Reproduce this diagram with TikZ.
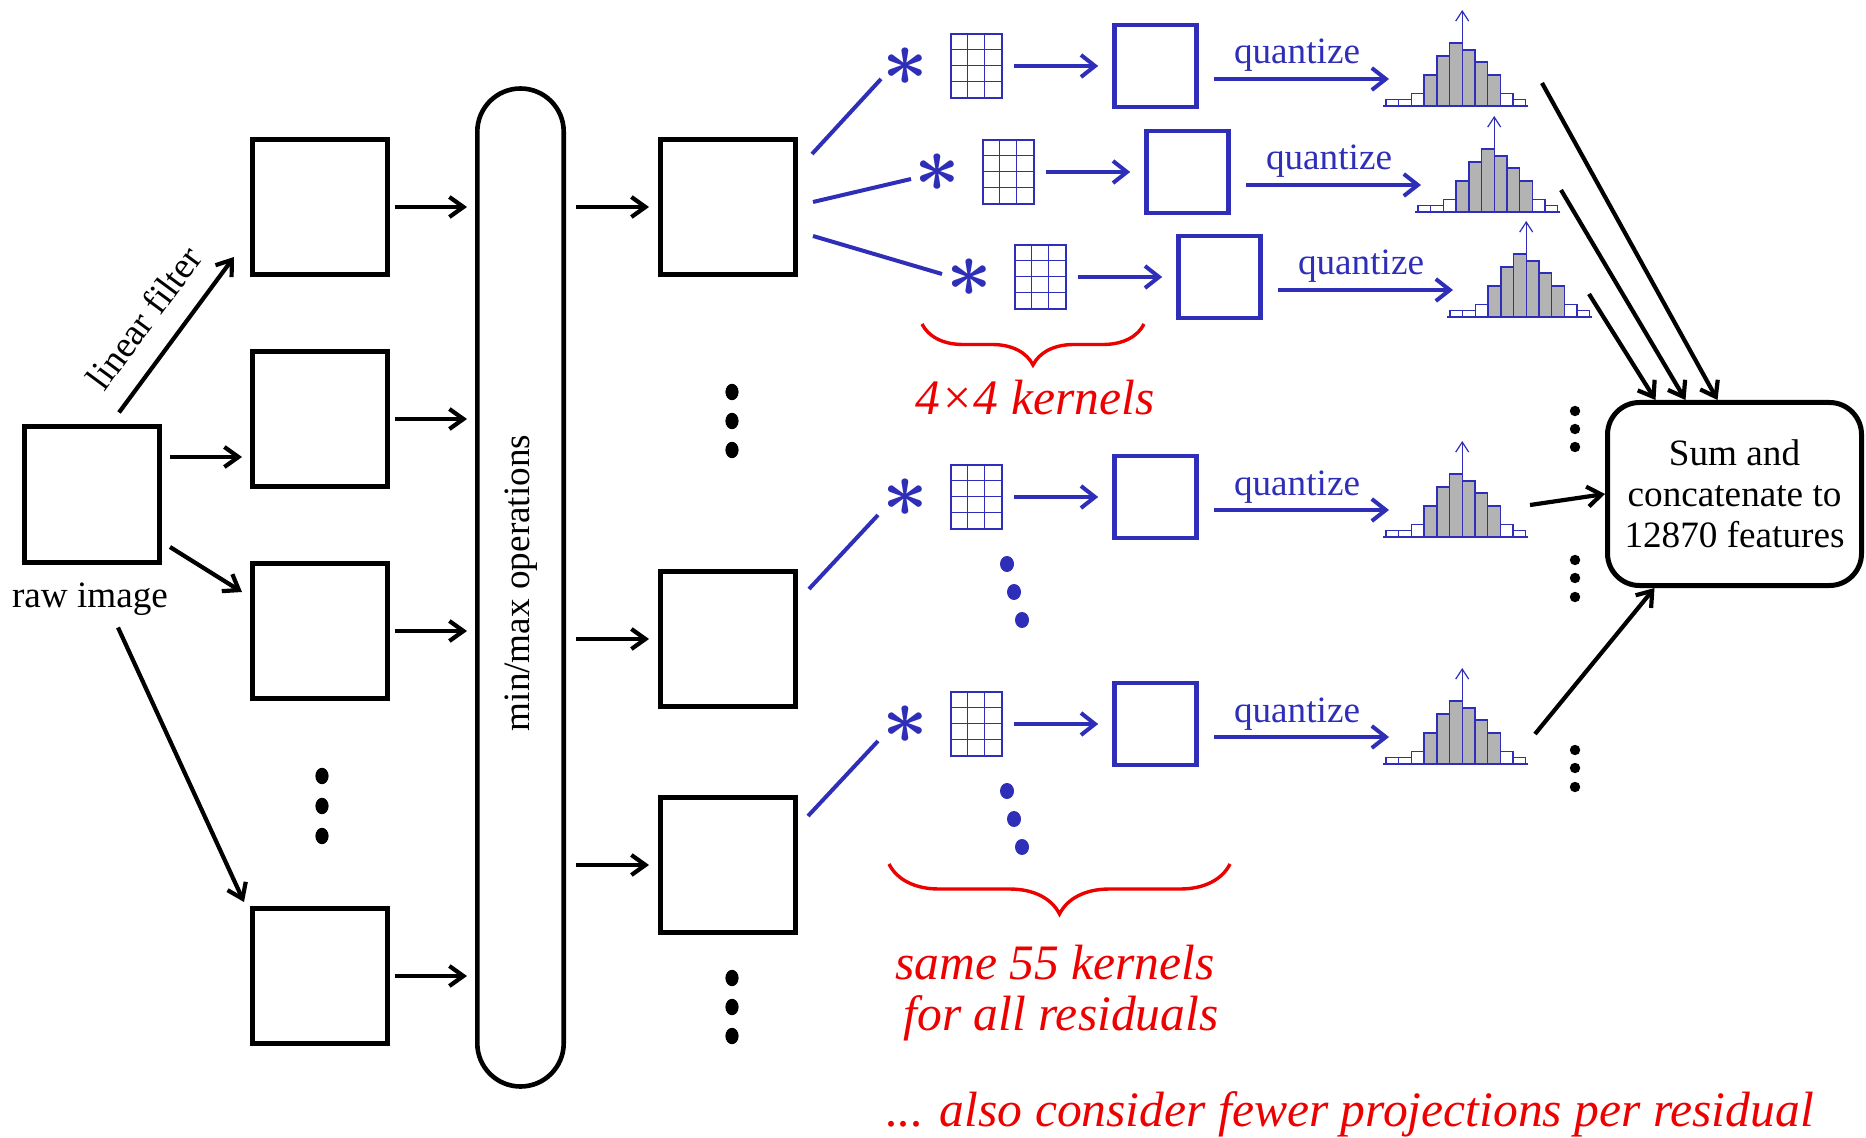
\documentclass[tikz,border=0pt]{standalone}
\usepackage{fontspec}
\setmainfont{Liberation Serif}
\usetikzlibrary{arrows.meta,calc,decorations.pathreplacing}

\definecolor{kblue}{RGB}{46,46,184}
\definecolor{kred}{RGB}{236,0,0}
\definecolor{hgrey}{RGB}{179,179,179}

\tikzset{
  box/.style={draw, line width=2.5pt, minimum width=67.5pt, minimum height=67.5pt, inner sep=0pt},
  arr/.style={line width=2.1pt, -{Straight Barb[length=7pt,width=10pt]}},
  bbox/.style={draw=kblue, line width=2.3pt, minimum width=41pt, minimum height=41pt, inner sep=0pt},
  barr/.style={kblue, line width=2pt, -{Straight Barb[length=7pt,width=11pt]}},
  bline/.style={kblue, line width=2pt},
  kgrid/.style={draw=kblue, line width=0.6pt, minimum width=25.5pt, minimum height=32pt, inner sep=0pt},
  kgridline/.style={kblue, line width=0.6pt},
  ast/.style={text=kblue, inner sep=0pt, font=\Huge\boldmath},
  lbl/.style={font=\fontsize{18.6}{20.5}\selectfont, inner sep=0pt},
  qlbl/.style={lbl, text=kblue},
  redlbl/.style={text=kred, font=\fontsize{24.8}{25.5}\selectfont\itshape, inner sep=0pt},
  bar/.style={draw=kblue, line width=0.7pt},
  hbase/.style={kblue, line width=1pt},
  harr/.style={kblue, line width=0.6pt, -{Straight Barb[length=5pt,width=6.5pt]}},
  rbrace/.style={kred, line width=1.7pt, decorate, decoration={brace, mirror, amplitude=#1}},
  sumbox/.style={draw, line width=2.5pt, rounded corners=16pt, minimum width=127pt,
    minimum height=91.5pt, align=center, lbl},
}

% one projection row: convolution sign, kernel, residual, quantizer, histogram
% #1 = row index, #2 = horizontal shift, #3 = vertical centre
\newcommand\kernelrow[3]{%
  \begin{scope}[shift={(#2,#3)}]
    \node[ast] (s#1) at (905,1) {\scalebox{1.6}{$\ast$}};
    \node[kgrid] (k#1) at (976.5,0) {};
    \foreach \i in {1,2}
      \draw[kgridline] ($(k#1.north west)+(17*\i,0)$) -- ($(k#1.south west)+(17*\i,0)$);
    \foreach \j in {1,2,3}
      \draw[kgridline] ($(k#1.north west)+(0,16*\j)$) -- ($(k#1.north east)+(0,16*\j)$);
    \node[bbox] (b#1) at (1155.5,0) {};
    \draw[barr, shorten <=5.5pt, shorten >=7pt] (k#1) -- (b#1);
    \coordinate (h#1) at (1383,40);
    \node[qlbl, anchor=base] (q#1) at (1297,-2) {quantize};
    \draw[barr] ($(b#1.east)+(15,13)$) -- ($(h#1)+(6,-27)$);
    \begin{scope}[shift={(h#1)}]
      \foreach \n/\h in {0/6.7,1/6.7,2/12.7,9/12.7,10/6.7}
        \draw[bar, fill=white] (3+12.7*\n,0) rectangle (3+12.7*\n+12.7,-\h);
      \foreach \n/\h in {3/31,4/50,5/63,6/56,7/44,8/31}
        \draw[bar, fill=hgrey] (3+12.7*\n,0) rectangle (3+12.7*\n+12.7,-\h);
      \draw[hbase] (0,0) -- (145,0);
      \draw[harr] (79.2,0) -- (79.2,-96);
    \end{scope}
  \end{scope}%
}

\begin{document}
\begin{tikzpicture}[x=0.5pt,y=-0.5pt]
\useasboundingbox (0,0) rectangle (1866,1138);

% input image and the linear filters
\node[box] (raw) at (92,494.5) {};
\node[lbl, anchor=base] (rawlbl) at (90,607) {raw image};

\node[box] (c1a) at (320,207) {};
\node[box] (c1b) at (320,419) {};
\node[box] (c1c) at (320,631) {};
\node[box] (c1d) at (320,976) {};
\foreach \y in {776,806,836}
  \fill (322,\y) ellipse [x radius=3.3pt, y radius=4.1pt];

\draw[arr] ($(raw.north)+(27,-12)$) -- node[lbl, sloped, above=10.5pt, pos=0.47] (lf) {linear filter} ($(c1a.south west)+(-16,-20)$);
\draw[arr] ($(raw.east)+(8,-37.5)$) -- ($(c1b.west)+(-8,38)$);
\draw[arr] ($(raw.east)+(8,52.5)$) -- ($(c1c.west)+(-8,-39)$);
\draw[arr] ($(raw.south)+(26,63)$) -- ($(c1d.north west)+(-6,-4)$);

% min/max stage
\node[draw, line width=2.3pt, minimum width=43.2pt, minimum height=499pt,
      rounded corners=21.6pt, inner sep=0pt] (pill) at (520.5,587.5) {};
\node[lbl, rotate=90] (mmlbl) at (521,583) {min/max operations};

\foreach \b in {c1a,c1b,c1c,c1d}
  \draw[arr, shorten <=2.5pt, shorten >=4pt] (\b.east) -- (\b.east -| pill.west);

% residuals
\node[box] (c2a) at (728,207) {};
\node[box] (c2b) at (728,639) {};
\node[box] (c2c) at (728,865) {};
\foreach \b in {c2a,c2b,c2c}
  \draw[arr, shorten <=5pt, shorten >=4.5pt] (pill.east |- \b.west) -- (\b.west);
\foreach \y in {392,421,450,978,1007,1036}
  \fill (732,\y) ellipse [x radius=3.3pt, y radius=4.1pt];

% projections
\kernelrow{1}{0}{66}
\kernelrow{2}{32}{172}
\kernelrow{3}{64}{277}
\kernelrow{4}{0}{497}
\kernelrow{5}{0}{724}

\draw[bline] ($(c2a.east)+(14,-53)$) -- ($(s1)+(-24,12)$);
\draw[bline] ($(c2a.east)+(15,-5)$) -- ($(s2)+(-26,6)$);
\draw[bline] ($(c2a.east)+(15,29)$) -- ($(s3)+(-27,-4)$);
\draw[bline] ($(c2b.east)+(11,-50)$) -- ($(s4)+(-27,17)$);
\draw[bline] ($(c2c.east)+(10,-49)$) -- ($(s5)+(-27,16)$);

\foreach \x/\y in {1007/564,1014/592,1022/620,1007/791,1014/819,1022/847}
  \fill[kblue] (\x,\y) ellipse [x radius=3.5pt, y radius=4pt];

% feature aggregation
\node[sumbox] (sum) at (1734.5,494) {Sum and\\concatenate to\\12870 features};

\coordinate (o1) at (1542,83);
\coordinate (o2) at (1561,190);
\coordinate (o3) at (1589,294);
\coordinate (o4) at (1530,505);
\coordinate (o5) at (1535,734);
\draw[arr] (o1) -- ($(sum.north)+(-17,0)$);
\draw[arr] (o2) -- ($(sum.north)+(-49,0)$);
\draw[arr] (o3) -- ($(sum.north)+(-79,0)$);
\draw[arr] (o4) -- (sum.west);
\draw[arr] (o5) -- ($(sum.south)+(-80,0)$);

\foreach \y in {411,429,447,560,578,597,750,768,787}
  \fill (1575,\y) circle [radius=2.6pt];

% annotations
\draw[rbrace=20.5pt] (922,324) -- (1144,324);
\node[redlbl, anchor=base] (k44) at (1035,415) {4×4 kernels};
\draw[rbrace=25pt] (889,864) -- (1230,864);
\node[redlbl, anchor=base] (same1) at (1055,979) {same 55 kernels};
\node[redlbl, anchor=base] (same2) at (1061,1030) {for all residuals};
\node[redlbl, anchor=base] (fewer) at (1350,1126) {... also consider fewer projections per residual};

\end{tikzpicture}
\end{document}
